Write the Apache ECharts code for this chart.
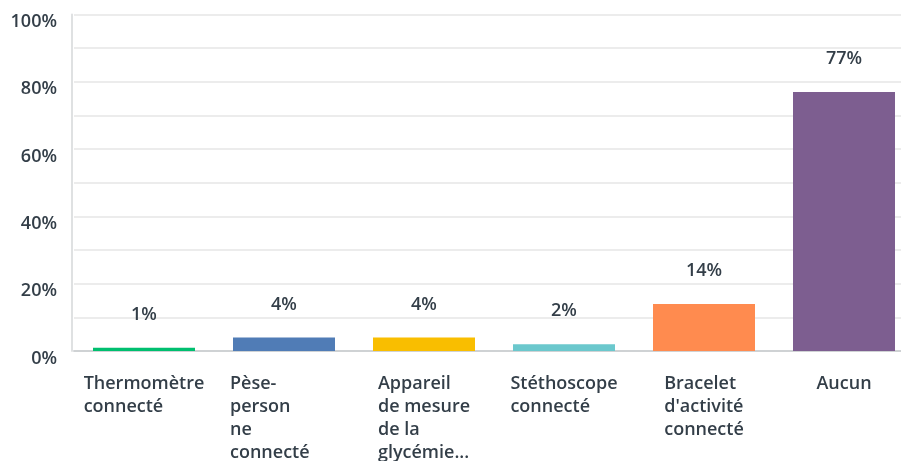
<!DOCTYPE html>
<html>
<head>
<meta charset="utf-8">
<script src="https://cdn.jsdelivr.net/npm/echarts@6/dist/echarts.min.js"></script>
<style>
  html, body { margin: 0; padding: 0; background: #fff; }
  #chart { width: 901px; height: 461px; }
</style>
</head>
<body>
<div id="chart"></div>
<script>
// Response categories (label lines as shown under each bar)
const categories = [
  ['Thermomètre', 'connecté'],
  ['Pèse-', 'person', 'ne', 'connecté'],
  ['Appareil', 'de mesure', 'de la', 'glycémie...'],
  ['Stéthoscope', 'connecté'],
  ['Bracelet', "d'activité", 'connecté'],
  ['Aucun']
];
// Share of respondents, in percent
const values = [1, 4, 4, 2, 14, 77];
const barColors = ['#00bf6f', '#507cb6', '#f9be00', '#6bc8cd', '#ff8b4f', '#7d5e90'];
const yTicks = [0, 20, 40, 60, 80, 100];

const FONT = 'Open Sans';
const TEXT = '#333e48';
// The hyphen-broken label keeps the width of its unbroken wrap box
const wideLabel = categories[1].join('\n');

const chart = echarts.init(document.getElementById('chart'));
chart.setOption({
  animation: false,
  textStyle: { fontFamily: FONT },
  grid: { left: 74, top: 14.5, width: 840, bottom: 110, outerBoundsMode: 'none', containLabel: false },
  xAxis: {
    type: 'category',
    data: categories.map(c => c.join('\n')),
    axisLine: { lineStyle: { color: '#cfd2d4', width: 2 } },
    axisTick: { show: false },
    axisLabel: {
      interval: 0,
      margin: 21,
      align: 'center',
      formatter: v => {
        const key = v === wideLabel ? 'w' : 't';
        return v.split('\n').map(s => '{' + key + '|' + s + '}').join('\n');
      },
      rich: {
        t: { align: 'left', fontFamily: FONT, fontSize: 18, fontWeight: 600, color: TEXT, lineHeight: 23 },
        w: { align: 'left', width: 108, fontFamily: FONT, fontSize: 18, fontWeight: 600, color: TEXT, lineHeight: 23 }
      }
    }
  },
  yAxis: {
    type: 'value',
    min: 0,
    max: 100,
    interval: 10,
    offset: 2,
    axisLine: { show: true, lineStyle: { color: '#dfe1e2', width: 2 } },
    axisTick: { show: false },
    splitLine: { lineStyle: { color: '#ececec', width: 2 } },
    axisLabel: {
      margin: 15,
      formatter: v => yTicks.includes(v) ? '{v|' + v + '%}' : '',
      rich: {
        v: { fontFamily: FONT, fontSize: 18, fontWeight: 600, color: TEXT, padding: [15, 0, 0, 0] }
      }
    }
  },
  series: [{
    type: 'bar',
    barWidth: 102,
    data: values.map((v, i) => ({ value: v, itemStyle: { color: barColors[i] } })),
    label: {
      show: true,
      position: 'top',
      distance: 24,
      fontFamily: FONT,
      fontSize: 18,
      fontWeight: 600,
      color: TEXT,
      formatter: p => p.value + '%'
    }
  }]
});
</script>
</body>
</html>
